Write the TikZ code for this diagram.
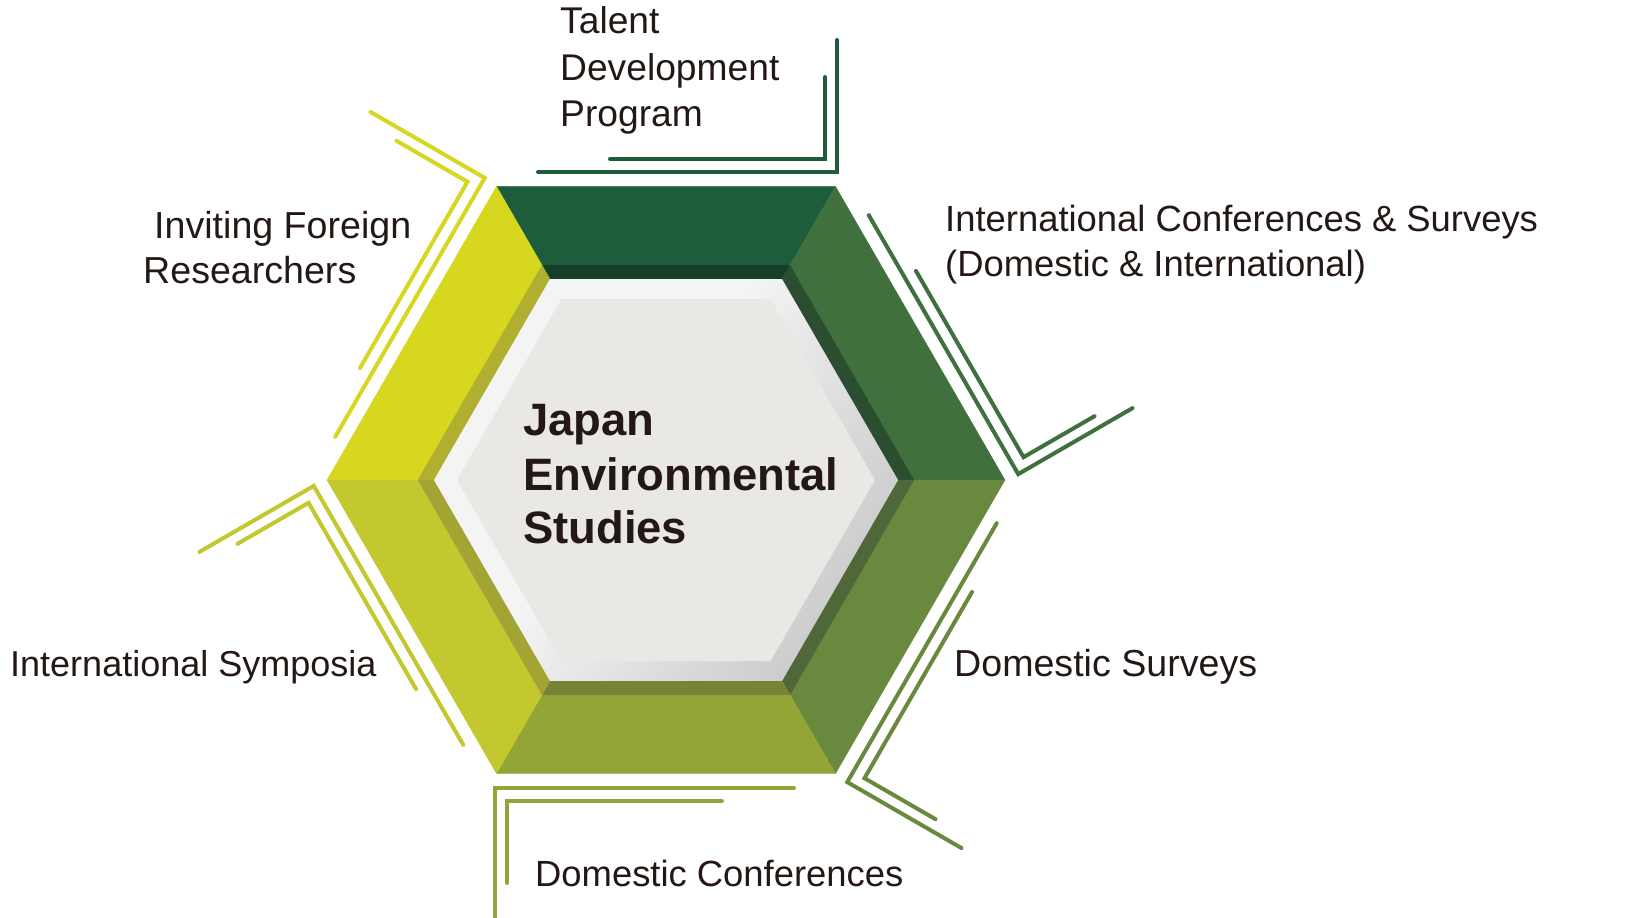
\documentclass[tikz,border=0pt]{standalone}
\usepackage{fontspec}
\setmainfont{Liberation Sans}
\usetikzlibrary{calc}
\definecolor{segT}{HTML}{1D5D3B}
\definecolor{segUR}{HTML}{3F703E}
\definecolor{segLR}{HTML}{68893E}
\definecolor{segB}{HTML}{93A537}
\definecolor{segLL}{HTML}{C2C82E}
\definecolor{segUL}{HTML}{D7D720}
\definecolor{stT}{HTML}{163F2A}
\definecolor{stUR}{HTML}{2C4E30}
\definecolor{stLR}{HTML}{506839}
\definecolor{stB}{HTML}{7A8238}
\definecolor{stLL}{HTML}{A3A434}
\definecolor{stUL}{HTML}{B0AF2F}
\definecolor{ringW}{HTML}{F4F4F4}
\definecolor{ringG}{HTML}{A8A8A8}
\definecolor{coreG}{HTML}{E9E8E5}
\definecolor{ink}{HTML}{231815}
\pgfdeclarehorizontalshading{ringsh}{100bp}{color(0bp)=(ringW); color(45bp)=(ringW); color(100bp)=(ringG)}
\begin{document}
\begin{tikzpicture}[x=1pt,y=-1pt,
  bracket/.style={line width=4pt, line cap=round, line join=miter},
  lbl/.style={inner sep=0pt, anchor=base west, text=ink, font=\fontsize{36.4}{44}\selectfont},
  lblb/.style={lbl, font=\fontsize{37.6}{45}\selectfont},
  lblc/.style={lbl, font=\fontsize{37.2}{45}\selectfont},
  ttl/.style={inner sep=0pt, anchor=base west, text=ink, font=\fontsize{45.4}{54}\selectfont\bfseries}]
\useasboundingbox (0,0) rectangle (1636,918);
\fill[white] (0,0) rectangle (1636,918);
\coordinate (C) at (666,480);
% segments and dark strips
\foreach \a/\c/\d in {240/segT/stT, 300/segUR/stUR, 0/segLR/stLR, 60/segB/stB, 120/segLL/stLL, 180/segUL/stUL}{
  \pgfmathsetmacro{\b}{\a+60}
  \filldraw[fill=\c, draw=\c, line width=0.3pt] ($(C)+(\a:339)$) -- ($(C)+(\b:339)$) -- ($(C)+(\b:248)$) -- ($(C)+(\a:248)$) -- cycle;
  \filldraw[fill=\d, draw=\d, line width=0.3pt] ($(C)+(\a:248)$) -- ($(C)+(\b:248)$) -- ($(C)+(\b:232)$) -- ($(C)+(\a:232)$) -- cycle;
}
% light ring
\shade[shading=ringsh, shading angle=-35] ($(C)+(0:232)$) -- ($(C)+(60:232)$) -- ($(C)+(120:232)$) -- ($(C)+(180:232)$) -- ($(C)+(240:232)$) -- ($(C)+(300:232)$) -- cycle;
% core
\fill[coreG] ($(C)+(0:209)$) -- ($(C)+(60:209)$) -- ($(C)+(120:209)$) -- ($(C)+(180:209)$) -- ($(C)+(240:209)$) -- ($(C)+(300:209)$) -- cycle;
% brackets
\foreach \r/\c in {0/segT, 60/segUL, 120/segLL, 180/segB, 240/segLR, 300/segUR}{
  \begin{scope}[rotate around={\r:(C)}]
    \draw[bracket, \c] (538,172) -- (837,172) -- (837,40);
    \draw[bracket, \c] (610,159) -- (825,159) -- (825,77);
  \end{scope}
}
% title
\node[ttl] (t1) at (523,435) {Japan};
\node[ttl] (t2) at (523,490) {Environmental};
\node[ttl] (t3) at (523,543) {Studies};
% labels
\node[lblc] (tal1) at (560,34) {Talent};
\node[lblc] (tal2) at (560,80) {Development};
\node[lblc] (tal3) at (560,126) {Program};
\node[lblb] (inv1) at (154,238) {Inviting Foreign};
\node[lblb] (inv2) at (143,283) {Researchers};
\node[lbl] (icon1) at (945,231) {International Conferences \& Surveys};
\node[lbl] (icon2) at (945,276) {(Domestic \& International)};
\node[lblb] (dsur) at (954,676) {Domestic Surveys};
\node[lbl] (dcon) at (535,886) {Domestic Conferences};
\node[lbl, font=\fontsize{36}{44}\selectfont] (isym) at (10,676) {International Symposia};
\end{tikzpicture}
\end{document}
